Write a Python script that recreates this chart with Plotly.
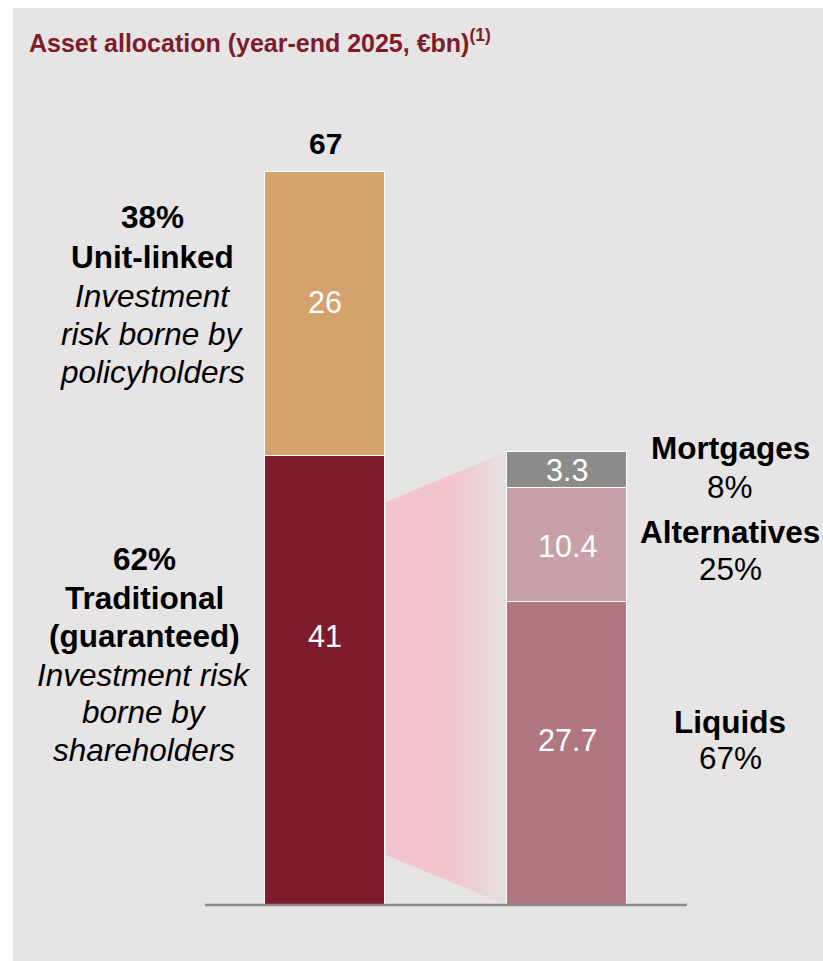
import plotly.graph_objects as go

# ---- data ----
left_labels = ["Traditional", "Unit-linked"]
left_values = [41, 26]
left_total = 67
right_labels = ["Liquids", "Alternatives", "Mortgages"]
right_values = [27.7, 10.4, 3.3]
right_pct = ["67%", "25%", "8%"]
left_pct = ["62%", "38%"]

left_colors = ["#7E1C2C", "#D4A26D"]
right_colors = ["#B07780", "#C9A0A8", "#8C8C8C"]

BG = "#E6E4E5"
FONT = "Arial"

W, H = 823, 961
ML, MT = 13, 8
X0PX, XSCALE = 325, 242.0
Y0PX, YSCALE = 905, 10.94


def px2x(px):
    return (px - X0PX) / XSCALE


def py2y(py):
    return (Y0PX - py) / YSCALE


fig = go.Figure()

# connector (gradient wedge)
cx = [px2x(386), px2x(506), px2x(506), px2x(386), px2x(386)]
cy = [py2y(502), py2y(452), py2y(905), py2y(855), py2y(502)]
fig.add_trace(go.Scatter(
    x=cx, y=cy, mode="lines", fill="toself", line=dict(width=0),
    fillgradient=dict(type="horizontal",
                      colorscale=[[0, "#F3C3CC"], [0.5, "#F2C4CC"], [1, "#E5E0E1"]]),
    hoverinfo="skip", showlegend=False))

bw = 120 / XSCALE
for lab, v, c in zip(left_labels, left_values, left_colors):
    fig.add_trace(go.Bar(x=[0], y=[v], width=bw, marker=dict(color=c, line=dict(color="white", width=1)),
                         name=lab, showlegend=False, hoverinfo="skip"))
for lab, v, c in zip(right_labels, right_values, right_colors):
    fig.add_trace(go.Bar(x=[1], y=[v], width=bw, marker=dict(color=c, line=dict(color="white", width=1)),
                         name=lab, showlegend=False, hoverinfo="skip"))

ann = []
LS = 31.5  # label font size


def add(text, x, y, size=LS, color="black", xanchor="center", family=FONT):
    ann.append(dict(text=text, x=x, y=y, xref="x", yref="y", showarrow=False,
                    font=dict(family=family, size=size, color=color), xanchor=xanchor, yanchor="middle"))


# value labels inside bars (label positions as in the reference)
for v, py in zip(left_values, [636, 302]):
    add(f"{v:g}", 0, py2y(py), color="white", size=30.5)
for v, py in zip(right_values, [740, 546, 470]):
    add(f"{v:g}", 1, py2y(py), color="white", size=30.5)

# total
add(f"<b>{left_total}</b>", 0, py2y(143), size=30)

# left descriptions
lx1 = px2x(152)
for t, py in [(f"<b>{left_pct[1]}</b>", 217), ("<b>Unit-linked</b>", 257), ("<i>Investment</i>", 296),
              ("<i>risk borne by</i>", 334), ("<i>policyholders</i>", 372)]:
    add(t, lx1, py2y(py))
lx2 = px2x(144)
for t, py in [(f"<b>{left_pct[0]}</b>", 559), ("<b>Traditional</b>", 598), ("<b>(guaranteed)</b>", 636),
              ("<i>Investment risk</i>", 675), ("<i>borne by</i>", 712), ("<i>shareholders</i>", 750)]:
    add(t, lx2, py2y(py))

# right descriptions
rx = px2x(730)
for t, py in [(f"<b>{right_labels[2]}</b>", 448), (right_pct[2], 487),
              (f"<b>{right_labels[1]}</b>", 532), (right_pct[1], 569),
              (f"<b>{right_labels[0]}</b>", 722), (right_pct[0], 758)]:
    add(t, rx, py2y(py))

# title
ann.append(dict(text="<b>Asset allocation (year-end 2025, €bn)<sup>(1)</sup></b>", x=px2x(27), y=py2y(41),
                xref="x", yref="y", showarrow=False, xanchor="left", yanchor="middle",
                font=dict(family="Arial", size=25, color="#7E1C2C")))

fig.update_layout(
    width=W, height=H, margin=dict(l=ML, t=MT, r=0, b=0, pad=0),
    paper_bgcolor="white", plot_bgcolor=BG, barmode="stack", bargap=0,
    annotations=ann,
    shapes=[dict(type="line", xref="x", yref="y", x0=px2x(205), x1=px2x(687), y0=0, y1=0,
                 line=dict(color="#8C8C8C", width=2.5), layer="above")],
    xaxis=dict(range=[px2x(ML), px2x(W)], visible=False, fixedrange=True),
    yaxis=dict(range=[py2y(H), py2y(MT)], visible=False, fixedrange=True),
    showlegend=False,
)

fig.write_html("out.html")
